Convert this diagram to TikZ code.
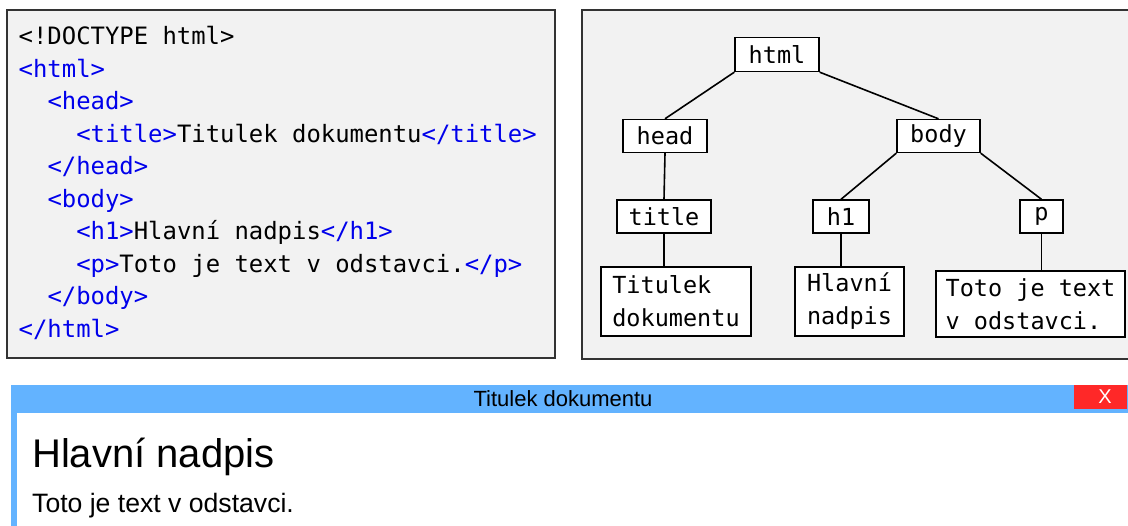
\documentclass[tikz,border=0pt]{standalone}
\usepackage{fontspec}
\setmainfont{Liberation Sans}
\newfontfamily\codefont{DejaVu Sans Mono}
\definecolor{tagblue}{RGB}{0,0,235}
\definecolor{panelgray}{RGB}{242,242,242}
\definecolor{barblue}{RGB}{99,179,255}
\definecolor{closered}{RGB}{255,40,40}
\newcommand\tagc[1]{\textcolor{tagblue}{#1}}
\begin{document}
\begin{tikzpicture}[x=1pt,y=-1pt,
  panel/.style={draw=black!80,line width=1.6pt,fill=panelgray},
  code/.style={anchor=base west,inner sep=0pt,font=\codefont\fontsize{23.9}{28}\selectfont},
  treebox/.style={draw=black,fill=white,line width=1.4pt,inner sep=0pt,
    font=\codefont\fontsize{23.5}{33}\selectfont},
  leafbox/.style={treebox,align=left},
  edge/.style={line width=1.6pt}]
\useasboundingbox (0,0) rectangle (1128,526);
% code panel
\draw[panel] (7,10) rectangle (555,358);
\node[code] (c1) at (18.5,45) {<!DOCTYPE html>};
\node[code] (c2) at (18.5,77.5) {\tagc{<html>}};
\node[code] (c3) at (47.3,110) {\tagc{<head>}};
\node[code] (c4) at (76.1,142.5) {\tagc{<title>}Titulek dokumentu\tagc{</title>}};
\node[code] (c5) at (47.3,175) {\tagc{</head>}};
\node[code] (c6) at (47.3,207.5) {\tagc{<body>}};
\node[code] (c7) at (76.1,240) {\tagc{<h1>}Hlavní nadpis\tagc{</h1>}};
\node[code] (c8) at (76.1,272.5) {\tagc{<p>}Toto je text v odstavci.\tagc{</p>}};
\node[code] (c9) at (47.3,305) {\tagc{</body>}};
\node[code] (c10) at (18.5,337.5) {\tagc{</html>}};
% tree panel
\draw[panel] (582,10) rectangle (1140,359);
\node[treebox,minimum width=84,minimum height=34] (html) at (777,54.5) {html};
\node[treebox,minimum width=84,minimum height=33] (head) at (665,136) {head};
\node[treebox,minimum width=83,minimum height=33] (body) at (938.5,136) {body};
\node[treebox,minimum width=94,minimum height=33] (title) at (664,216.5) {title};
\node[treebox,minimum width=56,minimum height=33] (h1) at (841,216.5) {h1};
\node[treebox,minimum width=43,minimum height=33] (p) at (1041.5,216.5) {p};
\node[leafbox,minimum width=150,minimum height=69] (tit) at (676,301.5) {Titulek\\dokumentu};
\node[leafbox,minimum width=109,minimum height=69] (hl) at (849.5,301.5) {Hlavní\\nadpis};
\node[leafbox,minimum width=189,minimum height=66] (toto) at (1030.5,304) {Toto je text\\v odstavci.};
\draw[edge] (html.south west) -- (head.north);
\draw[edge] (html.south east) -- (body.north);
\draw[edge] (head.south) -- (title.north);
\draw[edge] (body.south west) -- (h1.north);
\draw[edge] (body.south east) -- (p.north);
\draw[edge] (title.south) -- (title.south |- tit.north);
\draw[edge] (h1.south) -- (h1.south |- hl.north);
\draw[edge] (p.south) -- (p.south |- toto.north);
% browser window
\fill[barblue] (11,385) rectangle (1140,530);
\fill[white] (17,413) rectangle (1140,530);
\node[inner sep=0pt,font=\fontsize{22}{26}\selectfont] (wtitle) at (563,399) {Titulek dokumentu};
\node[fill=closered,minimum width=53,minimum height=24,inner sep=0pt,text=white,
  font=\fontsize{20}{22}\selectfont] (close) at (1100.5,397) {\hspace{9pt}X};
\node[anchor=base west,inner sep=0pt,font=\fontsize{40}{44}\selectfont] (h1text) at (32,468) {Hlavní nadpis};
\node[anchor=base west,inner sep=0pt,font=\fontsize{26.6}{30}\selectfont] (ptext) at (32,513) {Toto je text v odstavci.};
\end{tikzpicture}
\end{document}
